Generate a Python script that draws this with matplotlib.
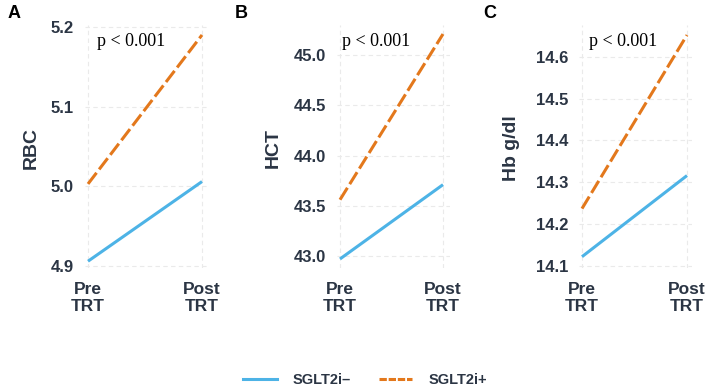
import matplotlib.pyplot as plt
from matplotlib.lines import Line2D

W, H = 709, 391

time_labels = ["Pre\nTRT", "Post\nTRT"]
groups = ["SGLT2i\u2013", "SGLT2i+"]

rbc_minus = [4.906, 5.006]
rbc_plus = [5.003, 5.190]
hct_minus = [42.97, 43.71]
hct_plus = [43.56, 45.21]
hb_minus = [14.122, 14.316]
hb_plus = [14.237, 14.652]

blue = "#4DB3E6"
orange = "#E3781C"
tick_col = "#2B3544"

panels = [
    # letter, ylabel, minus, plus, yticks, ylim, axes px (left, right), pre/post px, ylabel x, p-text x
    ("A", "RBC", rbc_minus, rbc_plus, [4.9, 5.0, 5.1, 5.2], (4.8975, 5.2025),
     (85, 207), (88, 202), 31, 97, 8),
    ("B", "HCT", hct_minus, hct_plus, [43.0, 43.5, 44.0, 44.5, 45.0], (42.88, 45.30),
     (337, 450), (340, 443), 273, 342, 235),
    ("C", "Hb g/dl", hb_minus, hb_plus, [14.1, 14.2, 14.3, 14.4, 14.5, 14.6], (14.095, 14.676),
     (579, 692), (582, 687), 512, 589, 483),
]

fig = plt.figure(figsize=(W / 100, H / 100), dpi=100)
top_px, bot_px = 25, 268

for letter, ylab, mn, pl, yt, yl, (lx, rx), (px0, px1), ylx, ptx, letx in panels:
    ax = fig.add_axes([lx / W, 1 - bot_px / H, (rx - lx) / W, (bot_px - top_px) / H])
    scale = px1 - px0
    ax.set_xlim((lx - px0) / scale, 1 + (rx - px1) / scale)
    ax.set_ylim(*yl)
    x = [0, 1]
    ax.plot(x, mn, color=blue, lw=2.2, solid_capstyle="butt", clip_on=False)
    ax.plot(x, pl, color=orange, lw=2.2, dashes=(4.6, 1.4), clip_on=False)
    ax.set_xticks(x)
    ax.set_xticklabels(time_labels, fontsize=12.5, fontweight="bold", color=tick_col,
                       family="Liberation Sans", linespacing=1.2)
    ax.set_yticks(yt)
    ax.set_yticklabels([f"{v:.1f}" for v in yt], fontsize=12, fontweight="bold",
                       color=tick_col, family="Liberation Sans")
    ax.tick_params(length=0, pad=8)
    ax.tick_params(axis="x", pad=10)
    ax.grid(True, color="#EAEAEA", lw=0.8, ls=(0, (4, 3)))
    ax.set_axisbelow(True)
    for s in ax.spines.values():
        s.set_visible(False)
    fig.text(ylx / W, 1 - 148 / H, ylab, rotation=90, ha="center", va="center",
             fontsize=14, fontweight="bold", color=tick_col, family="Liberation Sans")
    fig.text(letx / W, 1 - 14 / H, letter, ha="left", va="center", fontsize=13,
             fontweight="bold", color="black", family="Liberation Sans")
    fig.text(ptx / W, 1 - 41 / H, "p < 0.001", ha="left", va="center", fontsize=13,
             family="Liberation Serif", color="black")

handles = [Line2D([], [], color=blue, lw=2.2),
           Line2D([], [], color=orange, lw=2.2, dashes=(2.4, 0.6))]
fig.legend(handles, groups, loc="center", bbox_to_anchor=(0.515, 1 - 380 / H), ncol=2,
           frameon=False, handlelength=2.3, columnspacing=1.9, handletextpad=1.1,
           prop={"family": "Liberation Sans", "weight": "bold", "size": 10.5},
           labelcolor=tick_col)

fig.savefig("out.png", dpi=100)
